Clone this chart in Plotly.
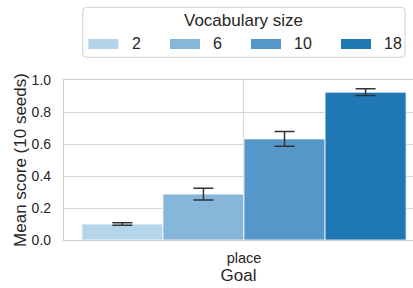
import plotly.graph_objects as go

# ---- data ----
goal = ["place"]
vocab_sizes = ["2", "6", "10", "18"]
mean_scores = [0.100, 0.287, 0.632, 0.924]
score_errors = [0.008, 0.037, 0.046, 0.021]
bar_colors = ["#b4d4ea", "#86b6d9", "#5497c8", "#1f77b4"]

W, H = 413, 288
ML, MR, MT, MB = 64, 0, 80, 48
PW, PH = W - ML - MR, H - MT - MB
FONT = "Liberation Sans, Arial, sans-serif"
TXT = "#262626"

def px2x(px):
    return (px - ML) / PW

def px2y(py):
    return (H - MB - py) / PH

fig = go.Figure()
for v, m, e, c in zip(vocab_sizes, mean_scores, score_errors, bar_colors):
    fig.add_trace(go.Bar(
        x=goal, y=[m], name=v,
        marker=dict(color=c, line=dict(color="rgba(255,255,255,0.8)", width=1)),
        error_y=dict(type="data", array=[e], color="#333333", thickness=1.5, width=10),
        showlegend=False,
    ))

# ---- custom legend (box, title, swatches, labels) ----
shapes = []
annotations = []
bx0, bx1, by0, by1 = px2x(82.7), px2x(405), px2y(7.3), px2y(57.3)
rx, ry = 4 / PW, 4 / PH
path = (f"M {bx0+rx},{by0} L {bx1-rx},{by0} Q {bx1},{by0} {bx1},{by0-ry} "
        f"L {bx1},{by1+ry} Q {bx1},{by1} {bx1-rx},{by1} "
        f"L {bx0+rx},{by1} Q {bx0},{by1} {bx0},{by1+ry} "
        f"L {bx0},{by0-ry} Q {bx0},{by0} {bx0+rx},{by0} Z")
shapes.append(dict(type="path", path=path, xref="paper", yref="paper",
                   line=dict(color="#d0d0d0", width=1), fillcolor="white", layer="above"))
annotations.append(dict(text="Vocabulary size", x=px2x(243.5), y=px2y(20), xref="paper", yref="paper",
                        showarrow=False, xanchor="center", yanchor="middle",
                        font=dict(family=FONT, size=17, color=TXT)))
sw_left = [88.3, 170, 251, 341]
lab_left = [129.5, 210.5, 292, 381.5]
for v, c, sx, lx in zip(vocab_sizes, bar_colors, sw_left, lab_left):
    shapes.append(dict(type="rect", xref="paper", yref="paper",
                       x0=px2x(sx), x1=px2x(sx + 30), y0=px2y(49), y1=px2y(39),
                       fillcolor=c, line=dict(width=0), layer="above"))
    annotations.append(dict(text=v, x=px2x(lx), y=px2y(44), xref="paper", yref="paper",
                            showarrow=False, xanchor="left", yanchor="middle",
                            font=dict(family=FONT, size=16, color=TXT)))

fig.update_layout(
    width=W, height=H,
    margin=dict(l=ML, r=MR, t=MT, b=MB, pad=0),
    paper_bgcolor="white", plot_bgcolor="white",
    barmode="group", bargap=0.2, bargroupgap=0,
    font=dict(family=FONT, color=TXT),
    shapes=shapes, annotations=annotations,
    showlegend=False,
)
fig.update_xaxes(
    range=[-0.444, 0.417], showgrid=True, gridcolor="#d6d6d6", gridwidth=1,
    showline=True, linecolor="#cccccc", linewidth=1.25, mirror=True,
    ticks="", tickfont=dict(family=FONT, size=14.5, color=TXT), ticklabelstandoff=4,
    title=dict(text="Goal", font=dict(family=FONT, size=17, color=TXT), standoff=0),
    automargin=False, zeroline=False,
)
fig.update_yaxes(
    range=[0, 1.0], dtick=0.2, tickformat=".1f", showgrid=True, gridcolor="#d6d6d6", gridwidth=1,
    showline=True, linecolor="#cccccc", linewidth=1.25, mirror=False,
    ticks="", tickfont=dict(family=FONT, size=14, color=TXT), ticklabelstandoff=9,
    title=dict(text="Mean score (10 seeds)", font=dict(family=FONT, size=17, color=TXT), standoff=0),
    automargin=False, zeroline=False,
)

fig.write_html("out.html", config={"displayModeBar": False},
               post_script="document.body.style.margin='0px';document.body.style.overflow='hidden';")
